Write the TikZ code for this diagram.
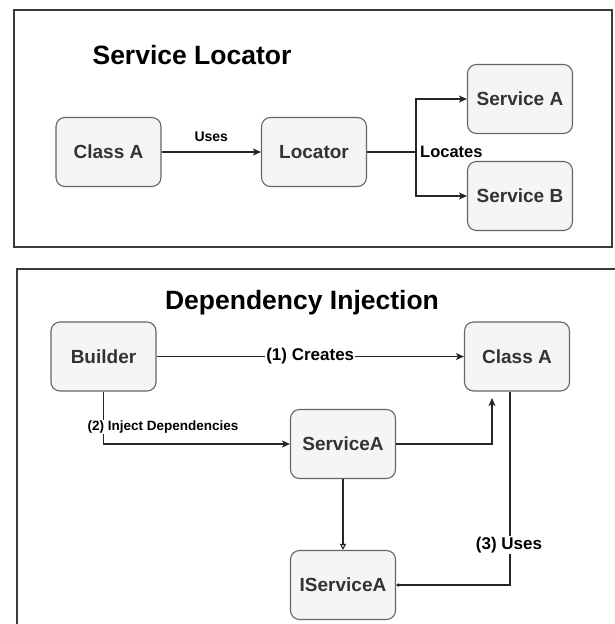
\documentclass[tikz,border=0pt]{standalone}
\usepackage{fontspec}
\setmainfont{Liberation Sans}
\usetikzlibrary{arrows.meta}
\definecolor{boxfill}{HTML}{F5F5F5}
\definecolor{boxline}{HTML}{666666}
\definecolor{boxtext}{HTML}{333333}
\definecolor{frameline}{HTML}{3A3A3A}
\tikzset{
  box/.style={draw=boxline, fill=boxfill, rounded corners=9pt, line width=1.1pt,
    minimum width=105pt, minimum height=69pt, inner sep=0pt,
    text=boxtext, font=\fontsize{19}{21}\selectfont\bfseries},
  title/.style={font=\fontsize{26.5}{29}\selectfont\bfseries, text=black},
  conn/.style={draw=black!85, line width=1.2pt, -{Stealth[length=8pt,width=7pt,inset=2pt]}},
  lbl/.style={font=\fontsize{17}{19}\selectfont\bfseries, text=black, inner sep=1pt},
  frame/.style={draw=frameline, line width=1.3pt}
}
\begin{document}
\begin{tikzpicture}[x=1pt,y=-1pt]
\useasboundingbox[fill=white] (0,0) rectangle (615,624);

% panel frames
\draw[frame] (14,10) rectangle (612,247);
\draw[frame] (17,630) -- (17,269) -- (620,269);

% ---- service locator ----
\node[title] (t1) at (192,55) {Service Locator};
\node[box] (ca1) at (108.5,152) {Class A};
\node[box] (loc) at (314,152) {Locator};
\node[box] (sa) at (520,99) {Service A};
\node[box] (sb) at (520,196) {Service B};
\coordinate (split) at (416,152);

\draw[conn] (ca1) -- node[lbl, above=9pt, font=\fontsize{14}{16}\selectfont\bfseries] (uses1) {Uses} (loc);
\draw[draw=black!85, line width=1.2pt] (loc) -- (split);
\draw[conn] (split) |- (sa);
\draw[conn] (split) |- (sb);
\node[lbl, anchor=west, font=\fontsize{16.5}{18}\selectfont\bfseries] (locates) at (419,152) {Locates};

% ---- dependency injection ----
\node[title] (t2) at (302,303) {Dependency Injection};
\node[box] (bld) at (103.5,356.5) {Builder};
\node[box] (ca2) at (517,356.5) {Class A};
\node[box] (svc) at (343,444) {ServiceA};
\node[box] (isvc) at (343,585) {IServiceA};
\coordinate (up) at (492,398);

\draw[conn] (bld) -- node[lbl, fill=white, pos=0.5] (l1) {(1) Creates} (ca2);
\draw[conn] (bld.south) |- (svc.west);
\node[lbl, fill=white, font=\fontsize{13.5}{15}\selectfont\bfseries, inner sep=0.5pt] (l2) at (163,427) {(2) Inject Dependencies};
\draw[conn] (svc.east) -| (up);
\draw[draw=black!85, line width=1.1pt, -{Triangle[open,length=6pt,width=6pt]}] (svc.south) -- (isvc.north);
\draw[draw=black!85, line width=1.2pt, -{Stealth[length=3pt,width=4pt]}] (ca2.south -| 510,0) |- (isvc.east);
\node[lbl, fill=white] (l3) at (509,545) {(3) Uses};
\end{tikzpicture}
\end{document}
